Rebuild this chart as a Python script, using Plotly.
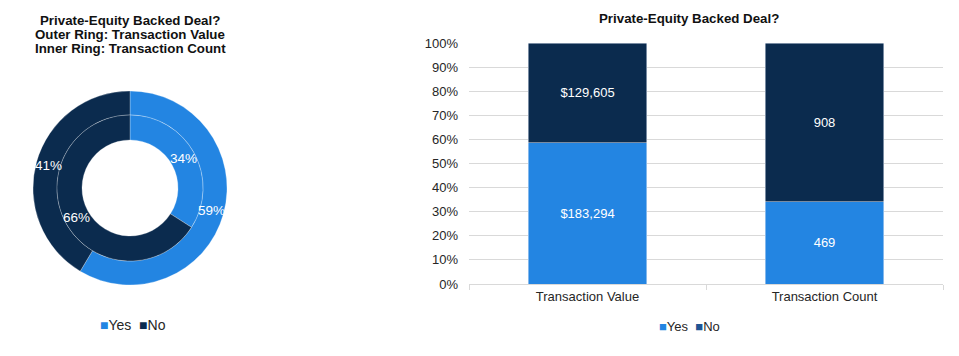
import math
import plotly.graph_objects as go

W, H = 959, 356

# ---- data ----
labels = ["Yes", "No"]
outer_values = [183294, 129605]   # transaction value ($)
inner_values = [469, 908]         # transaction count
categories = ["Transaction Value", "Transaction Count"]
yes_values = [183294, 469]
no_values = [129605, 908]
yes_text = ["$183,294", "469"]
no_text = ["$129,605", "908"]
y_ticks = [0, 10, 20, 30, 40, 50, 60, 70, 80, 90, 100]
y_tick_labels = [f"{t}%" for t in y_ticks]

YES = "#2385E2"
NO = "#0B2B4E"
NO_LEG = "#1F5493"
FONT = "Liberation Sans, Arial, sans-serif"
TXT = "#262626"

def px(x):
    return x / W

def py(y):
    return 1 - y / H

fig = go.Figure()

# donut geometry (pixels)
cx, cy = 130, 188
r_out, r_mid, r_in = 97, 73, 48

def ring(values, r_outer, r_inner):
    fig.add_trace(go.Pie(
        labels=labels, values=values, sort=False, direction="clockwise", rotation=0,
        hole=r_inner / r_outer,
        domain=dict(x=[px(cx - r_outer), px(cx + r_outer)], y=[py(cy + r_outer), py(cy - r_outer)]),
        marker=dict(colors=[YES, NO], line=dict(color="rgba(255,255,255,0.45)", width=0.6)),
        textinfo="none", showlegend=False, hoverinfo="label+value+percent",
    ))

ring(outer_values, r_out, r_mid)
ring(inner_values, r_mid, r_in)

# percentage labels at mid-angle of each slice, mid-radius of each ring
ann = []
for values, ro, ri in [(outer_values, r_out, r_mid), (inner_values, r_mid, r_in)]:
    total = sum(values)
    cum = 0
    rr = (ro + ri) / 2
    for v in values:
        mid = (cum + v / 2) / total * 2 * math.pi
        cum += v
        x = cx + rr * math.sin(mid)
        y = cy - rr * math.cos(mid)
        ann.append(dict(text=f"{v / total:.0%}", x=px(x), y=py(y), xref="paper", yref="paper",
                        xanchor="center", yanchor="middle", showarrow=False,
                        font=dict(size=13.5, color="white", family=FONT)))

# stacked 100% bars
fig.add_trace(go.Bar(
    x=categories, y=yes_values, name="Yes", marker_color=YES, text=yes_text,
    textposition="inside", insidetextanchor="middle",
    textfont=dict(color="white", size=13, family=FONT), showlegend=False, width=0.5,
))
fig.add_trace(go.Bar(
    x=categories, y=no_values, name="No", marker_color=NO, text=no_text,
    textposition="inside", insidetextanchor="middle",
    textfont=dict(color="white", size=13, family=FONT), showlegend=False, width=0.5,
))

fig.update_layout(
    width=W, height=H, autosize=False,
    margin=dict(l=0, r=0, t=0, b=0, pad=0),
    paper_bgcolor="white", plot_bgcolor="white",
    barmode="stack", barnorm="percent",
    font=dict(family=FONT, color=TXT, size=13),
    uniformtext=dict(mode="show", minsize=10),
    xaxis=dict(
        domain=[px(469), px(943)], showgrid=False, showline=True, linecolor="#D9D9D9",
        ticks="outside", tickson="boundaries", ticklen=5, tickcolor="#D9D9D9",
        tickfont=dict(size=13, color=TXT), fixedrange=True, automargin=False,
    ),
    yaxis=dict(
        domain=[py(284), py(43)], range=[0, 100], tickmode="array",
        tickvals=y_ticks, ticktext=y_tick_labels, showgrid=True, gridcolor="#D9D9D9",
        zeroline=False, showline=False, tickfont=dict(size=13, color=TXT),
        ticklabelstandoff=10, fixedrange=True, automargin=False,
    ),
)

for t, y in [("Private-Equity Backed Deal?", 20),
             ("Outer Ring: Transaction Value", 35),
             ("Inner Ring: Transaction Count", 49)]:
    ann.append(dict(text=f"<b>{t}</b>", x=px(130), y=py(y), xref="paper", yref="paper",
                    xanchor="center", yanchor="middle", showarrow=False,
                    font=dict(size=13.3, color="#111111", family=FONT)))
ann.append(dict(text="<b>Private-Equity Backed Deal?</b>", x=px(689), y=py(18), xref="paper",
                yref="paper", xanchor="center", yanchor="middle", showarrow=False,
                font=dict(size=13.3, color="#111111", family=FONT)))
# legends
ann.append(dict(text=f"<span style='color:{YES}'>■</span>Yes  <span style='color:{NO}'>■</span>No",
                x=px(133), y=py(325), xref="paper", yref="paper", xanchor="center",
                yanchor="middle", showarrow=False, font=dict(size=14, color=TXT, family=FONT)))
ann.append(dict(text=f"<span style='color:{YES}'>■</span>Yes  <span style='color:{NO_LEG}'>■</span>No",
                x=px(689), y=py(326), xref="paper", yref="paper", xanchor="center",
                yanchor="middle", showarrow=False, font=dict(size=13, color=TXT, family=FONT)))
fig.update_layout(annotations=ann)

fig.write_html("out.html",
               config={"responsive": False, "displayModeBar": False},
               post_script="document.body.style.margin='0';document.body.style.overflow='hidden';")
